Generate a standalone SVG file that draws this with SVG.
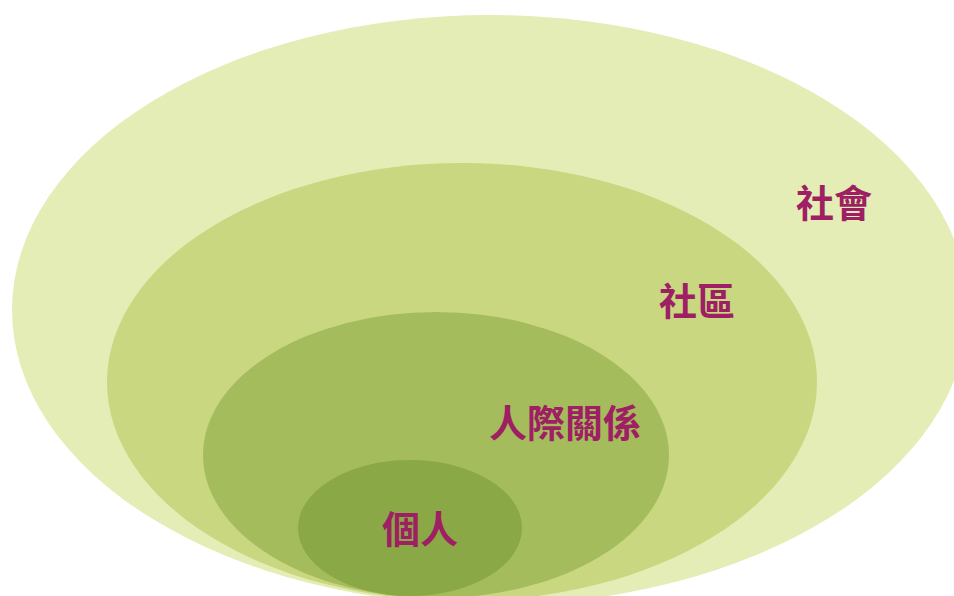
<svg xmlns="http://www.w3.org/2000/svg" width="954" height="596" viewBox="0 0 954 596">
<style>
.lbl{font-family:"Noto Sans CJK TC","Noto Sans CJK SC",sans-serif;font-weight:bold;font-size:38px;fill:#9E1F63}
</style>
<rect width="954" height="596" fill="#FFFFFF"/>
<g id="society"><ellipse cx="490" cy="310" rx="478" ry="295" fill="#E4EDB5"/><text class="lbl" x="796" y="217">社會</text></g>
<g id="community"><ellipse cx="462" cy="382" rx="355" ry="219" fill="#C8D780"/><text class="lbl" x="659" y="315">社區</text></g>
<g id="relationships"><ellipse cx="436" cy="455" rx="233" ry="143" fill="#A5BC5C"/><text class="lbl" x="489" y="437">人際關係</text></g>
<g id="individual"><ellipse cx="410" cy="528" rx="112" ry="68" fill="#8AA845"/><text class="lbl" x="382" y="543">個人</text></g>
<g id="connectors"/>
</svg>
